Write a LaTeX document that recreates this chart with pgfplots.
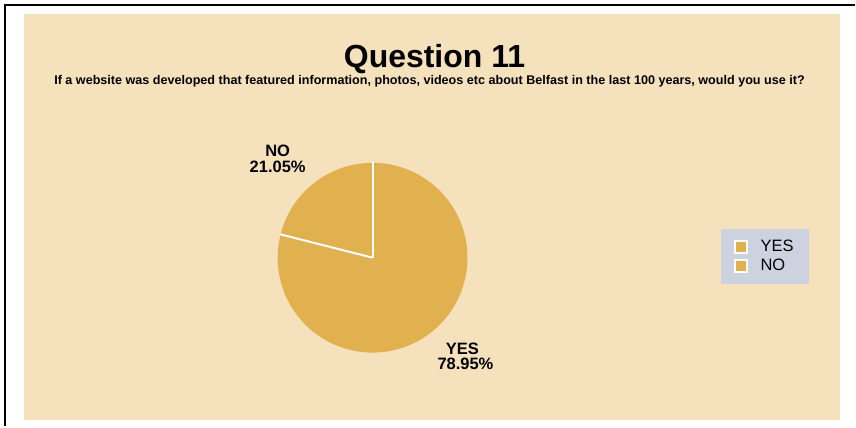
\documentclass[border=0pt]{standalone}
\usepackage{pgfplots}
\pgfplotsset{compat=1.18}
\usepackage{pgfplotstable}
\usepackage{fontspec}
\setmainfont{Liberation Sans}
\definecolor{panel}{HTML}{F5E2BC}
\definecolor{piecol}{HTML}{E1B04F}
\definecolor{legbg}{HTML}{CDD2E0}
\pgfplotstableread{
label value
YES 78.95
NO 21.05
}\piedata
\begin{document}
\begin{tikzpicture}
\pgfplotstablegetelem{0}{value}\of\piedata \let\yesval\pgfplotsretval
\pgfplotstablegetelem{1}{value}\of\piedata \let\noval\pgfplotsretval
\pgfmathsetmacro{\angA}{90}
\pgfmathsetmacro{\angB}{90+3.6*\noval}
\pgfmathsetmacro{\angC}{\angB+3.6*\yesval}
\begin{axis}[
  x=1pt, y=1pt, xmin=0, xmax=856, ymin=0, ymax=427,
  scale only axis, hide axis, clip=false, disabledatascaling,
  legend style={at={(0.8435,0.4637)}, anchor=north west, fill=legbg, draw=none,
    font=\fontsize{16.5}{18}\selectfont, inner xsep=13pt, inner ysep=9.5pt,
    row sep=2pt, column sep=11pt, legend cell align=left},
  legend image code/.code={\draw[#1] (0pt,-6pt) rectangle (12pt,6pt);},
]
% background
\fill[white] (axis cs:0,0) rectangle (axis cs:856,427);
\fill[panel] (axis cs:24,7) rectangle (axis cs:841,413);
\draw[black, line width=2pt] (axis cs:5,0) -- (axis cs:5,422) -- (axis cs:856,422);
% pie
\fill[piecol] (axis cs:373,169) -- ++(\angA:95pt) arc[start angle=\angA, end angle=\angB, radius=95pt] -- cycle;
\fill[piecol] (axis cs:373,169) -- ++(\angB:95pt) arc[start angle=\angB, end angle=\angC, radius=95pt] -- cycle;
\draw[white, line width=2pt] (axis cs:373,169) -- ++(\angA:95.5pt);
\draw[white, line width=2pt] (axis cs:373,169) -- ++(\angB:95.5pt);
% labels
\node[anchor=base, font=\fontsize{16.5}{18}\selectfont\bfseries, inner sep=0pt] at (axis cs:278,270) {NO};
\node[anchor=base, font=\fontsize{16.5}{18}\selectfont\bfseries, inner sep=0pt] at (axis cs:278,254) {21.05\%};
\node[anchor=base, font=\fontsize{16.5}{18}\selectfont\bfseries, inner sep=0pt] at (axis cs:463,72) {YES};
\node[anchor=base, font=\fontsize{16.5}{18}\selectfont\bfseries, inner sep=0pt] at (axis cs:466,57) {78.95\%};
% titles
\node[anchor=base, font=\fontsize{32}{36}\selectfont\bfseries, inner sep=0pt] at (axis cs:435,359) {Question 11};
\node[anchor=base, font=\fontsize{12.6}{14}\selectfont\bfseries, inner sep=0pt] at (axis cs:430,342) {If a website was developed that featured information, photos, videos etc about Belfast in the last 100 years, would you use it?};
% legend
\addlegendimage{fill=piecol, draw=white, line width=1.2pt}
\addlegendentry{YES}
\addlegendimage{fill=piecol, draw=white, line width=1.2pt}
\addlegendentry{NO}
\end{axis}
\end{tikzpicture}
\end{document}
